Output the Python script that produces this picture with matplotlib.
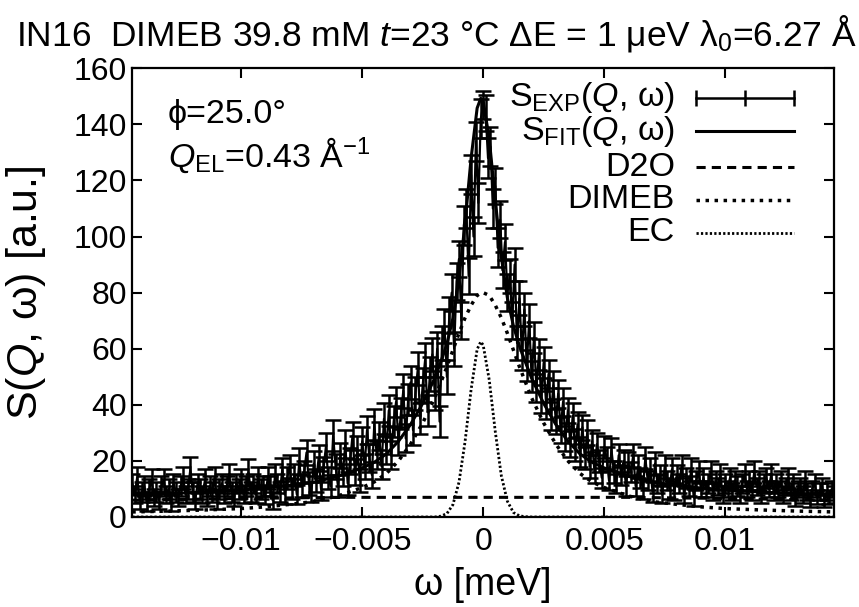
import numpy as np
import matplotlib
matplotlib.use('Agg')
import matplotlib.pyplot as plt

plt.rcParams['font.family'] = ['Liberation Sans', 'DejaVu Sans']
plt.rcParams['mathtext.fontset'] = 'custom'
plt.rcParams['mathtext.rm'] = 'Liberation Sans'
plt.rcParams['mathtext.it'] = 'Liberation Sans:italic'

# experimental spectrum, one channel every 0.1 ueV
w_exp = np.linspace(-0.0145, 0.0145, 291)
s_exp = [12, 8, 14, 6, 9, 11, 5, 10, 13, 7,
         9, 6, 11, 13, 8, 10, 5, 12, 9, 7,
         11, 14, 8, 10, 17, 9, 6, 12, 10, 8,
         13, 7, 11, 9, 14, 6, 10, 12, 8, 11,
         15, 9, 7, 12, 10, 13, 8, 11, 16, 9,
         12, 8, 14, 10, 11,
         8, 14, 11, 6, 15, 12, 9, 17, 8, 14,
         18, 10, 15, 8, 20, 11, 16, 23, 12, 9,
         19, 13, 21, 10, 17, 25, 14, 11, 29, 18,
         11, 22, 15, 26, 12, 20, 29, 16, 24, 13,
         27, 18, 31, 21, 15, 33, 22, 29, 18, 35,
         24, 38, 22, 34, 41, 27, 37, 45, 28, 42,
         48, 31, 44, 53, 35, 47, 56, 38, 51, 58,
         44, 60, 34, 62, 68, 50, 72, 80, 60, 84,
         92, 70, 104, 110, 86, 122, 100, 134, 112, 142,
         147,
         144, 128, 132, 110, 118, 96, 106, 88, 98, 80,
         86, 70, 90, 62, 78, 58, 74, 54, 70, 50,
         64, 46, 58, 42, 55, 40, 51, 36, 47, 34,
         44, 31, 41, 28, 38, 26, 36, 24, 33, 22,
         32, 21, 30, 18, 27, 16, 26, 20, 14, 25,
         21, 13, 24, 16, 12, 22, 15, 20, 11, 19,
         16, 22, 11, 18, 14, 10, 21, 13, 17, 9,
         19, 12, 15, 8, 18, 13, 10, 17, 9, 15,
         12, 18, 8, 14, 11, 17, 7, 13, 16, 10,
         14, 10, 12, 16, 9, 13, 11, 15, 8, 12,
         10, 14, 9, 13, 11, 8, 12, 15, 10, 13,
         9, 16, 11, 13, 8, 12, 14, 10, 15, 9,
         12, 10, 13, 8, 11, 14, 9, 12, 7, 10,
         11, 8, 13, 9, 6, 10, 12, 7, 9, 11,
         6, 9, 7, 10, 8]
s_err = [3.5, 3, 4, 3, 3.5, 3.5, 3, 3.5, 4, 3,
         3.5, 3, 3.5, 4, 3, 3.5, 3, 3.5, 3.5, 3,
         3.5, 4, 3, 3.5, 4.5, 3.5, 3, 3.5, 3.5, 3,
         4, 3, 3.5, 3.5, 4, 3, 3.5, 3.5, 3, 3.5,
         4, 3.5, 3, 3.5, 3.5, 4, 3, 3.5, 4.5, 3.5,
         3.5, 3, 4, 3.5, 3.5,
         3.5, 4, 3.5, 3, 4, 3.5, 3.5, 4, 3.5, 4,
         4, 3.5, 4, 3.5, 4.5, 4, 4, 4.5, 4, 3.5,
         4.5, 4, 4.5, 4, 4.5, 5, 4, 4, 5.5, 4.5,
         4, 4.5, 4, 5, 4, 4.5, 5, 4.5, 5, 4,
         5, 4.5, 5, 5, 4.5, 5.5, 5, 5, 4.5, 5.5,
         5, 5.5, 5, 5.5, 5.5, 5, 5.5, 6, 5, 5.5,
         6, 5.5, 6, 6, 5.5, 6, 6, 5.5, 6, 6,
         6, 6, 5.5, 6, 6, 6, 6.5, 6.5, 6, 6.5,
         6.5, 6.5, 7, 7, 6.5, 7, 7, 7, 7, 7,
         5,
         6.5, 7, 7, 7, 6.5, 7, 6.5, 6.5, 6.5, 6.5,
         6, 6.5, 6, 6, 6, 5.5, 6, 5.5, 6, 5.5,
         5.5, 5, 5.5, 5, 5.5, 5, 5, 5, 5, 4.5,
         5, 4.5, 5, 4.5, 4.5, 4.5, 4.5, 4, 4.5, 4,
         4.5, 4, 4.5, 4, 4, 4, 4, 4, 3.5, 4,
         4, 3.5, 4, 4, 3.5, 4, 3.5, 4, 3.5, 4,
         3.5, 4, 3.5, 4, 3.5, 3.5, 4, 3.5, 4, 3.5,
         4, 3.5, 3.5, 3, 4, 3.5, 3.5, 4, 3, 3.5,
         3.5, 4, 3, 3.5, 3.5, 4, 3, 3.5, 4, 3,
         3.5, 3, 3.5, 4, 3, 3.5, 3, 4, 3, 3.5,
         3, 3.5, 3, 3.5, 3.5, 3, 3.5, 4, 3, 3.5,
         3, 4, 3, 3.5, 3, 3.5, 3.5, 3, 4, 3,
         3.5, 3, 3.5, 3, 3, 3.5, 3, 3.5, 3, 3,
         3, 3, 3.5, 3, 2.5, 3, 3.5, 2.5, 3, 3,
         2.5, 3, 2.5, 3, 3]

# fitted components
w_mod = [-0.0145, -0.013, -0.0115, -0.010, -0.009, -0.008, -0.007, -0.006,
         -0.005, -0.0045, -0.004, -0.0035, -0.003, -0.0025, -0.002, -0.00175,
         -0.0015, -0.00125, -0.001, -0.00075, -0.0005, -0.00025, -0.0001, 0.0,
         0.00025, 0.0005, 0.00075, 0.001, 0.00125, 0.0015, 0.00175, 0.002,
         0.0025, 0.003, 0.0035, 0.004, 0.0045, 0.005, 0.006, 0.007,
         0.008, 0.009, 0.010, 0.0115, 0.013, 0.0145]
d2o = [6.0, 6.2, 6.4, 6.6, 6.7, 6.8, 6.9, 7.0,
       7.0, 7.0, 7.0, 7.0, 7.0, 7.0, 7.0, 7.0,
       7.0, 7.0, 7.0, 7.0, 7.0, 7.0, 7.0, 7.0,
       7.0, 7.0, 7.0, 7.0, 7.0, 7.0, 7.0, 7.0,
       7.0, 7.0, 7.0, 7.0, 7.0, 7.0, 7.0, 6.9,
       6.8, 6.7, 6.6, 6.4, 6.2, 6.0]
dimeb = [1.8, 2.1, 2.5, 3.0, 3.6, 4.5, 5.5, 7.5,
         10.5, 12.5, 15.5, 20, 26, 33.5, 42.5, 48,
         53.5, 59.5, 65.5, 71, 75.5, 79, 79.8, 80,
         79, 75.5, 71, 65.5, 59.5, 53.5, 48, 42.5,
         33.5, 26, 20, 15.5, 12.5, 10.5, 7.5, 5.5,
         4.5, 3.6, 3.0, 2.5, 2.1, 1.8]
ec = [0, 0, 0, 0, 0, 0, 0, 0,
      0, 0, 0, 0, 0, 0, 0, 0.3,
      1.2, 4.4, 12.4, 26.8, 45.4, 59.8, 62.5, 61.3,
      48.9, 30.4, 14.7, 5.6, 1.6, 0.4, 0.1, 0,
      0, 0, 0, 0, 0, 0, 0, 0,
      0, 0, 0, 0, 0, 0]
s_fit = np.array(d2o) + np.array(dimeb) + np.array(ec)

xticks = [-0.01, -0.005, 0, 0.005, 0.01]
xticklabels = ['\u22120.01', '\u22120.005', '0', '0.005', '0.01']
yticks = [0, 20, 40, 60, 80, 100, 120, 140, 160]

fig = plt.figure(figsize=(8.59, 6.07), dpi=100)
ax = fig.add_axes([0.154, 0.1483, 0.817, 0.7392])

ax.plot(w_mod, s_fit, color='black', lw=2.2, zorder=1.5)
ax.errorbar(w_exp, s_exp, yerr=s_err, color='black', lw=1.6, elinewidth=1.8,
            capsize=5.5, capthick=1.8, zorder=2)
ax.plot(w_mod, d2o, color='black', lw=2.2, ls=(0, (3, 2)), zorder=3)
ax.plot(w_mod, dimeb, color='black', lw=2.5, ls=(0, (1, 1.6)), zorder=3)
ax.plot(w_mod, ec, color='black', lw=2.0, ls=(0, (0.8, 0.8)), zorder=3)

ax.set_xlim(-0.0145, 0.0145)
ax.set_ylim(0, 160)
ax.set_xticks(xticks)
ax.set_xticklabels(xticklabels)
ax.set_yticks(yticks)
ax.tick_params(direction='in', length=7, width=1.5, top=True, right=True,
               labelsize=23)
ax.tick_params(axis='x', pad=7)
ax.tick_params(axis='y', pad=4)
for sp in ax.spines.values():
    sp.set_linewidth(1.6)

ax.set_xlabel('\u03c9 [meV]', fontsize=27)
ax.set_ylabel(r'S($Q$, ω) [a.u.]', fontsize=31)
ax.xaxis.set_label_coords(0.5, -0.112)
ax.yaxis.set_label_coords(-0.12, 0.5)

fig.text(0.508, 0.945, r'IN16  DIMEB 39.8 mM $t$=23 °C ΔE = 1 μeV λ$_0$=6.27 Å',
         ha='center', va='center', fontsize=25.5)

ax.text(0.051, 0.896, '\u03d5=25.0\u00b0', transform=ax.transAxes, fontsize=24.5,
        va='center', ha='left')
ax.text(0.051, 0.807, r'$Q_{\rm EL}$=0.43 Å$^{-1}$', transform=ax.transAxes,
        fontsize=24.5, va='center', ha='left')

# gnuplot style key: label right aligned, sample on the right
labels = [r'S$_{\rm EXP}$($Q$, ω)', r'S$_{\rm FIT}$($Q$, ω)', 'D2O', 'DIMEB', 'EC']
rows = [0.934, 0.860, 0.780, 0.707, 0.633]
x_txt, x0, x1 = 0.773, 0.803, 0.943
styles = [dict(lw=1.8), dict(lw=2.2), dict(lw=2.2, ls=(0, (3, 2))),
          dict(lw=2.5, ls=(0, (1, 1.6))), dict(lw=2.0, ls=(0, (0.8, 0.8)))]
for lab, yy, st in zip(labels, rows, styles):
    ax.text(x_txt, yy, lab, transform=ax.transAxes, fontsize=24.5,
            ha='right', va='center')
    ax.plot([x0, x1], [yy, yy], color='black', transform=ax.transAxes,
            clip_on=False, **st)
ax.plot([x0, (x0 + x1) / 2, x1], [rows[0]] * 3, ls='none', marker='|', ms=11,
        mew=1.8, color='black', transform=ax.transAxes)

fig.savefig('out.png', dpi=100)
